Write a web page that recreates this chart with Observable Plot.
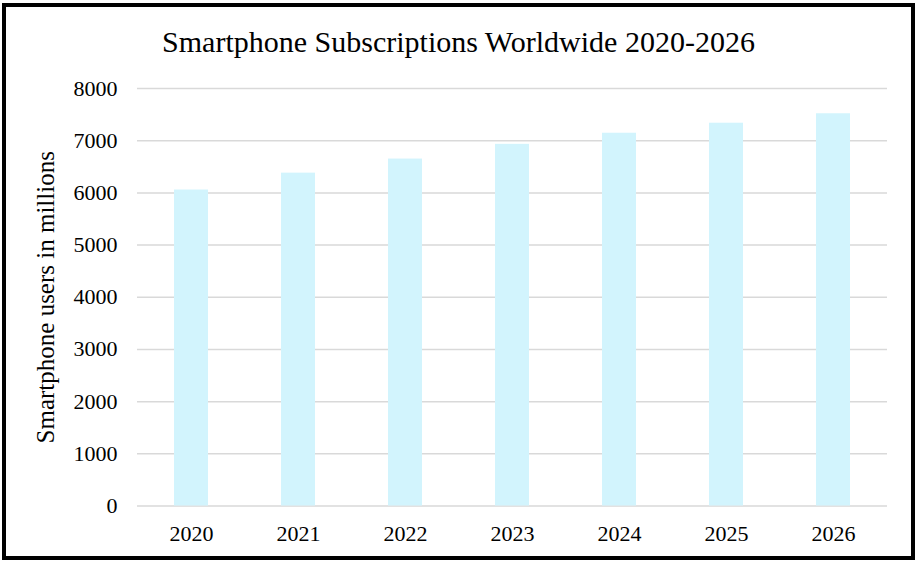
<!DOCTYPE html>
<html>
<head>
<meta charset="utf-8">
<script src="https://cdn.jsdelivr.net/npm/d3@7"></script>
<script src="https://cdn.jsdelivr.net/npm/@observablehq/plot@0.6"></script>
<style>
  html, body { margin: 0; padding: 0; background: #fff; }
  #wrap { position: relative; width: 917px; height: 563px; overflow: hidden; background: #fff; }
  #frame { position: absolute; left: 2px; top: 3px; width: 913px; height: 557px; box-sizing: border-box; border: 4px solid #000; }
  #title { position: absolute; left: 0; top: 24px; width: 917px; text-align: center;
           font-family: "Liberation Serif", "Times New Roman", serif; font-size: 30px; color: #000; line-height: 36px; }
  #chart { position: absolute; left: 0; top: 0; }
  #chart svg text { font-family: "Liberation Serif", "Times New Roman", serif; }
</style>
</head>
<body>
<div id="wrap">
  <div id="frame"></div>
  <div id="title">Smartphone Subscriptions Worldwide 2020-2026</div>
  <div id="chart"></div>
</div>
<script>
const years = ["2020", "2021", "2022", "2023", "2024", "2025", "2026"];
const users = [6055, 6378, 6648, 6930, 7143, 7335, 7516];
const yTicks = [0, 1000, 2000, 3000, 4000, 5000, 6000, 7000, 8000];
const yLabel = "Smartphone users in millions";

const data = years.map((y, i) => ({year: y, value: users[i]}));

const chart = Plot.plot({
  width: 917,
  height: 563,
  marginTop: 88,
  marginBottom: 57.5,
  marginLeft: 137,
  marginRight: 30,
  style: {
    fontFamily: "'Liberation Serif', 'Times New Roman', serif",
    fontSize: "22px",
    background: "transparent",
    overflow: "visible"
  },
  x: {domain: years, paddingInner: 0.68, paddingOuter: 0.34, label: null},
  y: {domain: [0, 8000], label: null},
  marks: [
    Plot.gridY(yTicks, {stroke: "#d9d9d9", strokeOpacity: 1, strokeWidth: 1.5}),
    Plot.barY(data, {x: "year", y: "value", fill: "#d2f4fd"}),
    Plot.axisY(yTicks, {tickSize: 0, tickPadding: 20, fontSize: 22, fill: "#000", label: null, tickFormat: d => String(d)}),
    Plot.axisX({tickSize: 0, tickPadding: 19, fontSize: 22, fill: "#000", label: null}),
    Plot.text([yLabel], {frameAnchor: "left", textAnchor: "middle", text: d => d, rotate: -90, dx: -92, fontSize: 25, fill: "#000"})
  ]
});
document.getElementById("chart").appendChild(chart);
</script>
</body>
</html>
